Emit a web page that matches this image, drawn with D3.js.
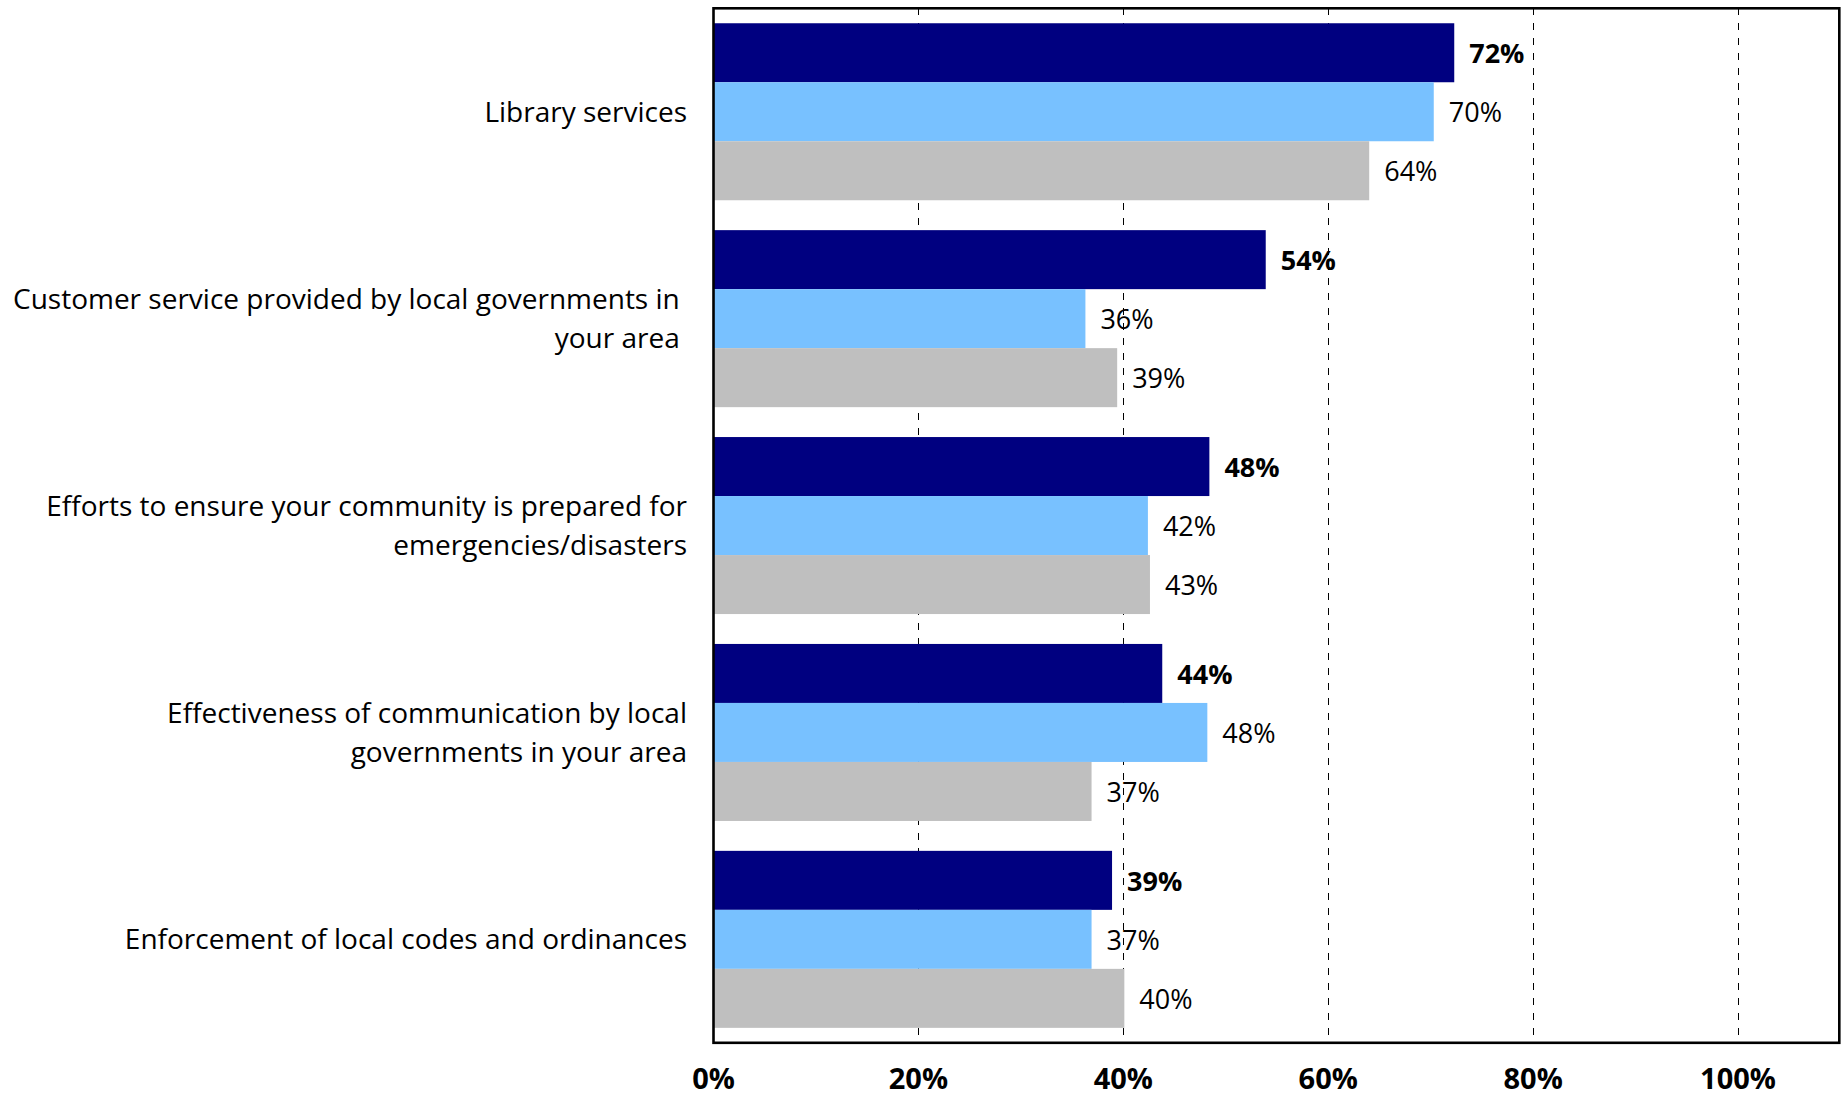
<!DOCTYPE html>
<html>
<head>
<meta charset="utf-8">
<script src="https://cdn.jsdelivr.net/npm/d3@7"></script>
<style>
  html, body { margin: 0; padding: 0; background: #fff; }
  svg { display: block; font-family: "Open Sans", sans-serif; }
</style>
</head>
<body>
<svg id="chart" width="1848" height="1097"></svg>
<script>
// ---- data ----
const categories = [
  "Library services",
  "Customer service provided by local governments in \nyour area ",
  "Efforts to ensure your community is prepared for\nemergencies/disasters",
  "Effectiveness of communication by local\ngovernments in your area",
  "Enforcement of local codes and ordinances"
];
const seriesNames = ["Series 1", "Series 2", "Series 3"];
const series1 = [72.3, 53.9, 48.4, 43.8, 38.9];
const series2 = [70.3, 36.3, 42.4, 48.2, 36.9];
const series3 = [64.0, 39.4, 42.6, 36.9, 40.1];
const tickValues = [0, 20, 40, 60, 80, 100];
const tickLabels = ["0%", "20%", "40%", "60%", "80%", "100%"];
const colors = ["#000080", "#78C1FF", "#BFBFBF"];

// ---- layout ----
const svg = d3.select("#chart");
const plotLeft = 713.5, plotRight = 1840.5, plotTop = 8.3, plotBottom = 1042.8;

const x = d3.scaleLinear().domain([0, 110]).range([plotLeft, plotRight]);
const y = d3.scaleBand().domain(categories).range([plotTop, plotBottom])
  .paddingInner(0.1445).paddingOuter(0.1445 / 2);
const ySub = d3.scaleBand().domain(seriesNames).range([0, y.bandwidth()]).padding(0);

const allSeries = [series1, series2, series3];
const rows = [];
categories.forEach((c, i) => {
  seriesNames.forEach((s, j) => {
    rows.push({ cat: c, series: s, idx: j, value: allSeries[j][i] });
  });
});

// gridlines
svg.append("g").selectAll("line")
  .data(tickValues.filter(v => v > 0))
  .join("line")
  .attr("x1", d => Math.round(x(d)) + 0.5)
  .attr("x2", d => Math.round(x(d)) + 0.5)
  .attr("y1", plotTop).attr("y2", plotBottom)
  .attr("stroke", "#000")
  .attr("stroke-width", 1)
  .attr("stroke-dasharray", "7,8")
  .attr("shape-rendering", "crispEdges");

// bars
svg.append("g").selectAll("rect")
  .data(rows)
  .join("rect")
  .attr("x", x(0))
  .attr("y", d => y(d.cat) + ySub(d.series))
  .attr("width", d => x(d.value) - x(0))
  .attr("height", ySub.bandwidth())
  .attr("fill", d => colors[d.idx]);

// value labels
svg.append("g").selectAll("text")
  .data(rows)
  .join("text")
  .attr("x", d => x(d.value) + 15)
  .attr("y", d => y(d.cat) + ySub(d.series) + ySub.bandwidth() / 2)
  .attr("dy", "0.39em")
  .attr("font-size", 27)
  .attr("font-weight", d => d.idx === 0 ? 700 : 400)
  .attr("fill", "#000")
  .text(d => Math.round(d.value) + "%");

// plot border
svg.append("rect")
  .attr("x", plotLeft).attr("y", plotTop)
  .attr("width", x(110) - plotLeft - 1.2).attr("height", plotBottom - plotTop)
  .attr("fill", "none").attr("stroke", "#000").attr("stroke-width", 2.6);

// category labels
const lineH = 39;
const catG = svg.append("g");
categories.forEach(c => {
  const lines = c.split("\n");
  const cy = y(c) + y.bandwidth() / 2;
  const t = catG.append("text")
    .attr("text-anchor", "end")
    .attr("font-size", 28)
    .attr("fill", "#000")
    .style("white-space", "pre");
  lines.forEach((ln, k) => {
    t.append("tspan")
      .attr("x", 687)
      .attr("y", cy + (k - (lines.length - 1) / 2) * lineH)
      .attr("dy", "0.357em")
      .text(ln);
  });
});

// x tick labels
svg.append("g").selectAll("text")
  .data(tickValues)
  .join("text")
  .attr("x", d => x(d))
  .attr("y", 1079)
  .attr("dy", "0.357em")
  .attr("text-anchor", "middle")
  .attr("font-size", 29)
  .attr("font-weight", 700)
  .attr("fill", "#000")
  .text((d, i) => tickLabels[i]);
</script>
</body>
</html>
